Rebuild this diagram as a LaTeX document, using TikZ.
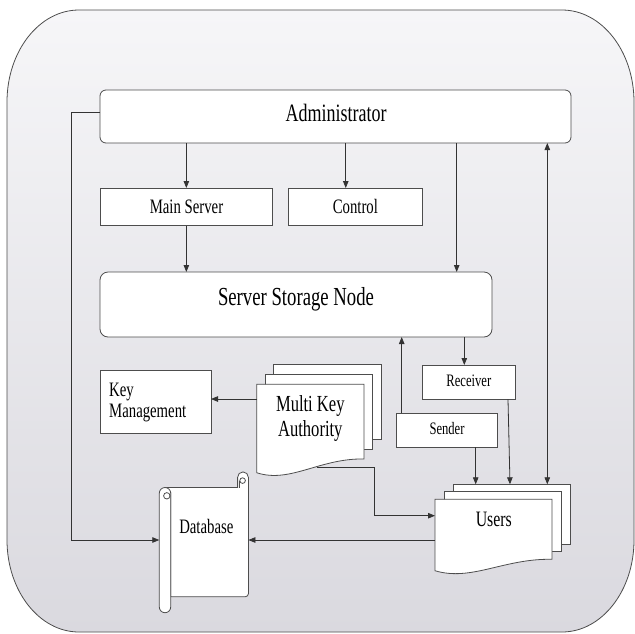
\documentclass[tikz,border=0pt]{standalone}
\usepackage{fontspec}
\setmainfont{Liberation Serif}[FakeStretch=0.72]
\usetikzlibrary{arrows.meta}

\definecolor{panetop}{HTML}{F6F6F8}
\definecolor{panebot}{HTML}{DAD9DF}
\definecolor{edge}{HTML}{4D4D4D}
\definecolor{wire}{HTML}{333333}

% stacked document shape: L T R Bl Br dx dy
\newcommand\docstack[7]{%
  \foreach \k in {2,1}{%
    \path[shapeline] (#1+\k*#6,#2-\k*#7) rectangle (#3+\k*#6,#5-\k*#7);}
  \path[shapeline] (#1,#2) -- (#3,#2) -- (#3,#5)
    .. controls ({#1+0.59*(#3-#1)},#5-1) and ({#1+0.31*(#3-#1)},#4+11) .. (#1,#4) -- cycle;
}

\begin{document}
\begin{tikzpicture}[x=1pt,y=-1pt,
  wire/.style={draw=wire, line width=0.8pt},
  arr/.style={wire, -{Triangle[length=7pt,width=5.5pt]}},
  dblarr/.style={wire, {Triangle[length=7pt,width=5.5pt]}-{Triangle[length=7pt,width=5.5pt]}},
  box/.style={draw=edge, fill=white, line width=0.8pt, inner sep=0pt, outer sep=0pt},
  shapeline/.style={draw=edge, fill=white, line width=0.8pt},
  lbl/.style={inner sep=0pt, anchor=base},
  lblw/.style={inner sep=0pt, anchor=base west},
]
\useasboundingbox (0,0) rectangle (635,633);

% outer pane
\shadedraw[top color=panetop, bottom color=panebot, draw=edge, line width=0.8pt]
  (79,10) -- (562,10)
  arc[start angle=-90, end angle=0, x radius=72, y radius=92] -- (634,540)
  arc[start angle=0, end angle=90, x radius=72, y radius=92] -- (79,632)
  arc[start angle=90, end angle=180, x radius=72, y radius=92] -- (7,102)
  arc[start angle=180, end angle=270, x radius=72, y radius=92] -- cycle;

% boxes
\node[box, rounded corners=6pt, minimum width=471pt, minimum height=53pt] (admin) at (335.5,116.5) {};
\node[box, minimum width=171.3pt, minimum height=37.7pt] (ms) at (186.35,206.85) {};
\node[box, minimum width=134.7pt, minimum height=37.7pt] (ctl) at (355.35,206.85) {};
\node[box, rounded corners=8pt, minimum width=392pt, minimum height=65pt] (ssn) at (296,304.5) {};
\node[box, minimum width=110.3pt, minimum height=62.3pt] (km) at (155.85,401.85) {};
\node[box, minimum width=93pt, minimum height=34.3pt] (rcv) at (468.5,382.15) {};
\node[box, minimum width=101pt, minimum height=34.3pt] (snd) at (447.2,430.15) {};

% document stacks
\docstack{256.7}{384.3}{364}{472.7}{459}{8.5}{9.8}
\docstack{435}{499.3}{552}{570.7}{559.3}{9.3}{7.6}

% database scroll
\path[shapeline] (165,487.5) -- (237.6,487.5) -- (237.6,477.3)
  arc[start angle=180, end angle=360, radius=5.4] -- (248.4,593.7)
  arc[start angle=0, end angle=90, radius=3] -- (170.7,596.7) -- (170.7,492.4) -- cycle;
\path[shapeline] (159.3,607) -- (159.3,493.2)
  arc[start angle=180, end angle=360, radius=5.7] -- (170.7,607)
  arc[start angle=0, end angle=180, radius=5.7] -- cycle;
\draw[edge, line width=0.8pt] (166.8,495.8) circle[radius=3.2];
\draw[edge, line width=0.8pt, fill=white] (242.6,480.6) circle[radius=2.8];
\draw[edge, line width=0.8pt] (239.8,480.6) -- (239.8,487.5);

% texts
\node[lbl, font=\fontsize{25}{30}\selectfont] (adminT) at (336,121.7) {Administrator};
\node[lbl, font=\fontsize{20.5}{24}\selectfont] (msT) at (186.5,213.3) {Main Server};
\node[lbl, font=\fontsize{20.5}{24}\selectfont] (ctlT) at (355.4,213.3) {Control};
\node[lbl, font=\fontsize{26}{30}\selectfont] (ssnT) at (296,305) {Server Storage Node};
\node[lblw, font=\fontsize{20.5}{24}\selectfont] (kmT1) at (109,396) {Key};
\node[lblw, font=\fontsize{20.5}{24}\selectfont] (kmT2) at (109,417.3) {Management};
\node[lbl, font=\fontsize{23}{26}\selectfont] (mkaT1) at (310.3,411.7) {Multi Key};
\node[lbl, font=\fontsize{23}{26}\selectfont] (mkaT2) at (310.3,436) {Authority};
\node[lbl, font=\fontsize{17.5}{20}\selectfont] (rcvT) at (468.8,386.7) {Receiver};
\node[lbl, font=\fontsize{17.5}{20}\selectfont] (sndT) at (447,434) {Sender};
\node[lbl, font=\fontsize{22}{26}\selectfont] (usrT) at (493.8,526.7) {Users};
\node[lbl, font=\fontsize{20.5}{24}\selectfont] (dbT) at (206.3,533.3) {Database};

% connector end points
\coordinate (adminW) at ([yshift=4.5pt]admin.west);
\coordinate (ctlIn) at ([xshift=-9.6pt]ctl.north);
\coordinate (ssnIn) at ([xshift=-35.3pt]ssn.north east);
\coordinate (rcvIn) at ([xshift=-4.2pt]rcv.north);
\coordinate (rcvDn) at ([xshift=39.5pt]rcv.south);
\coordinate (sndOut) at ([xshift=-45.5pt]snd.north);
\coordinate (sndDn) at ([xshift=28.5pt]snd.south);
\coordinate (usrIn) at (547.3,484.3);
\coordinate (usrIn2) at (510,484.3);
\coordinate (usrW) at (435,515.7);
\coordinate (usrW2) at (435,540);
\coordinate (mkaW) at (256.7,399);
\coordinate (mkaFoot) at (317,467.3);
\coordinate (dbW) at (159.3,540);
\coordinate (dbE) at (248.4,540);

% connectors
\draw[arr] (ms.north |- admin.south) -- (ms.north);
\draw[arr] (ctlIn |- admin.south) -- (ctlIn);
\draw[arr] (ssnIn |- admin.south) -- (ssnIn);
\draw[arr] (ms.south) -- (ms.south |- ssn.north);
\draw[dblarr] (usrIn |- admin.south) -- (usrIn);
\draw[arr] (rcvIn |- ssn.south) -- (rcvIn);
\draw[arr] (sndOut) -- (sndOut |- ssn.south);
\draw[arr] (sndDn) -- (sndDn |- usrIn);
\draw[arr] (rcvDn) -- (usrIn2);
\draw[arr] (mkaW) -- (mkaW -| km.east);
\draw[arr] (mkaFoot) -- ++(57,0) |- (usrW);
\draw[arr] (usrW2) -- (dbE);
\draw[arr] (adminW) -- ++(-29,0) |- (dbW);
\end{tikzpicture}
\end{document}
